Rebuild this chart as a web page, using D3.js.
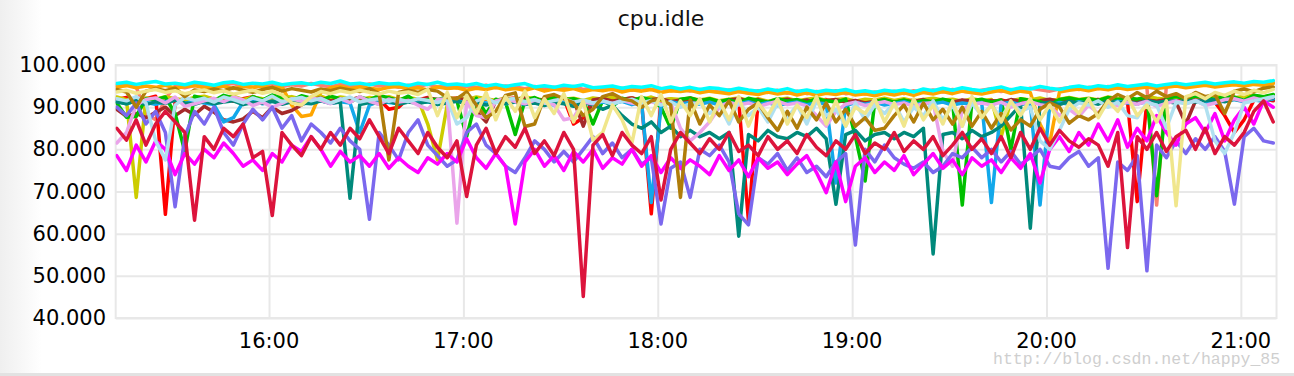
<!DOCTYPE html>
<html>
<head>
<meta charset="utf-8">
<script src="https://cdn.jsdelivr.net/npm/d3@7"></script>
<style>
  html, body { margin: 0; padding: 0; background: #fff; }
  svg { display: block; }
  .grid line { stroke: #e8e8e8; stroke-width: 2; }
  .grid path { display: none; }
  .tick-label { font-family: "DejaVu Sans", sans-serif; font-size: 21px; fill: #000; }
  .series { fill: none; stroke-width: 3.5; stroke-linejoin: round; stroke-linecap: round; }
</style>
</head>
<body>
<svg id="chart" width="1294" height="376"></svg>
<script>
// cpu.idle per host, sampled every 3 minutes from 15:13 to 21:10.
const title = "cpu.idle";
const startTime = new Date(2017, 0, 1, 15, 13);
const stepMinutes = 3;
const yTicks = [40, 50, 60, 70, 80, 90, 100];
const xTickHours = [16, 17, 18, 19, 20, 21];

const cyan = [
  95.6,95.9,95.4,95.8,96.1,95.5,95.7,95.3,95.9,95.6,
  95.2,95.8,96.0,95.4,95.7,95.5,95.9,95.3,95.6,95.8,
  95.4,95.9,95.6,96.2,95.5,95.7,95.3,95.8,95.5,95.6,
  95.1,95.7,95.4,95.9,95.3,95.5,95.2,95.6,95.0,95.4,
  94.9,95.3,95.6,94.8,95.1,94.7,95.2,94.9,95.3,94.6,
  94.8,95.0,94.5,94.9,94.7,95.1,94.4,94.8,94.3,94.7,
  94.2,94.6,94.4,94.0,94.5,94.1,93.8,94.3,93.9,94.4,
  93.7,94.1,93.6,94.0,93.8,94.2,93.6,93.9,93.5,94.0,
  93.7,94.1,93.6,94.3,93.9,94.5,94.0,94.6,94.2,93.9,
  94.4,94.8,94.1,94.6,94.3,94.9,94.5,94.2,94.7,95.0,
  94.6,95.1,94.8,95.3,94.9,95.2,95.5,95.0,95.4,95.7,
  95.3,95.6,95.9,95.5,95.8,96.0,95.7,96.1,95.9,96.3
];
const salmon = [
  95.2,95.5,94.8,88.5,87.0,92.0,95.0,94.6,95.1,95.4,
  94.9,95.3,95.6,95.0,94.7,95.2,95.5,94.9,95.3,95.0,
  95.6,95.2,94.8,95.4,95.1,94.9,95.5,95.0,95.3,94.7,
  95.2,94.9,95.4,94.8,95.1,94.6,95.0,94.7,95.2,94.6,
  95.0,94.8,94.4,94.9,94.3,94.7,94.5,94.9,94.2,94.6,
  94.4,94.1,94.5,94.0,94.6,94.2,94.4,93.9,94.3,93.8,
  94.2,93.9,93.6,94.1,93.7,93.4,93.9,93.5,94.0,93.3,
  93.8,93.2,93.7,93.4,93.9,93.2,93.5,93.1,93.6,93.3,
  93.8,93.2,93.9,93.5,94.1,93.6,94.2,93.8,93.5,94.0,
  94.4,93.7,94.2,93.9,94.5,94.1,93.8,94.3,94.6,94.2,
  94.7,94.4,94.9,94.5,94.8,95.1,94.6,66.8,95.0,95.3,
  94.9,95.2,95.5,95.1,95.4,95.6,95.3,95.7,95.5,95.9
];
const orange = [
  94.8,95.1,94.6,95.0,94.7,95.2,94.5,94.9,95.1,94.6,
  94.8,95.0,94.4,94.9,94.7,95.0,94.5,94.8,90.5,87.8,
  88.2,93.5,94.6,94.9,94.4,94.8,94.5,94.2,94.7,94.9,
  94.3,94.6,94.1,94.8,94.4,94.6,94.0,94.5,94.2,94.7,
  94.1,94.4,94.0,94.6,93.8,94.3,94.0,94.4,93.7,94.2,
  93.9,94.3,93.6,94.1,93.8,94.2,93.5,93.9,93.7,94.0,
  93.4,93.8,93.5,93.2,93.7,93.3,93.0,93.6,93.1,93.5,
  92.9,93.4,92.8,93.3,93.0,93.5,92.9,93.2,92.7,93.3,
  92.9,93.4,92.8,93.5,93.1,93.7,93.2,93.8,93.4,93.1,
  93.6,94.0,93.3,93.8,93.5,86.0,81.5,93.6,94.0,94.3,
  93.9,94.4,94.1,94.6,94.2,94.5,94.8,94.4,94.7,95.0,
  94.6,94.9,95.2,94.8,95.1,95.3,95.0,95.4,95.2,95.6
];
const red = [
  91.8,92.3,91.5,92.0,92.6,64.6,91.2,92.1,91.7,92.4,
  91.9,92.2,91.4,92.0,92.5,91.6,92.1,91.3,91.8,92.3,
  91.5,92.0,92.4,91.6,91.9,92.2,91.4,91.8,89.5,90.0,
  92.1,91.7,92.3,91.5,91.9,92.2,91.3,91.8,92.0,91.4,
  91.9,92.2,91.6,92.0,91.4,91.8,92.1,86.0,87.5,91.6,
  92.0,91.5,91.8,92.2,91.3,64.7,91.7,91.9,91.4,91.8,
  91.5,91.9,91.2,91.7,91.4,63.0,91.6,91.1,91.8,91.3,
  91.7,91.0,91.5,91.8,91.2,91.6,91.0,91.4,91.7,91.1,
  91.5,91.2,91.7,91.0,91.4,91.8,91.2,91.6,91.0,91.5,
  91.3,91.7,91.1,91.6,91.4,91.0,91.5,91.8,91.2,91.6,
  91.4,91.8,91.2,91.7,91.3,67.6,91.5,91.9,91.4,91.7,
  91.3,91.8,91.5,91.2,88.0,84.0,87.0,91.6,92.0,91.5
];
const olive = [
  92.4,91.8,68.6,92.2,91.9,92.5,92.0,91.7,92.3,92.6,
  91.9,92.2,92.6,91.8,92.4,92.0,91.7,92.3,92.5,91.9,
  92.2,92.6,91.8,92.4,92.1,91.7,92.3,92.0,92.5,91.8,
  92.3,91.9,86.0,77.5,90.5,92.2,91.8,92.4,92.0,91.6,
  92.2,91.8,92.4,92.0,91.7,92.3,91.9,92.1,91.6,92.2,
  91.9,92.3,91.7,92.1,91.8,92.4,91.6,92.0,91.8,92.2,
  91.7,92.1,91.5,91.9,92.2,91.6,92.0,91.4,91.8,92.1,
  91.5,91.9,92.2,91.6,91.8,92.0,91.4,91.9,91.7,92.1,
  91.6,92.0,91.5,91.8,92.1,91.7,91.9,91.4,92.0,91.6,
  91.8,83.0,91.5,92.0,91.7,92.2,91.6,91.9,92.3,91.8,
  92.1,91.7,92.4,92.0,92.2,91.8,92.5,92.1,91.9,92.4,
  92.2,92.6,92.0,92.4,92.7,92.3,92.5,92.8,92.4,92.9
];
const brown = [
  89.5,87.8,88.5,87.5,88.8,90.0,88.0,89.5,88.2,90.2,
  88.8,87.0,86.5,87.2,89.0,87.5,90.0,88.5,89.2,90.5,
  91.8,92.2,91.5,92.0,91.7,92.3,91.4,91.9,92.1,91.6,
  92.0,91.5,92.2,91.8,91.3,92.1,91.7,89.0,86.5,91.5,
  92.0,91.6,92.2,91.4,91.9,92.1,91.5,91.8,85.5,91.7,
  92.1,91.4,91.9,92.2,91.6,91.8,92.0,91.3,91.7,92.1,
  91.5,91.9,91.2,91.7,92.0,91.4,91.8,91.1,91.6,91.9,
  91.3,91.7,91.0,91.5,91.8,91.2,91.6,91.0,91.4,91.7,
  91.1,91.6,91.3,91.8,91.0,91.5,91.2,91.7,91.4,91.0,
  91.6,91.2,91.8,91.4,91.0,91.5,91.9,91.3,91.7,91.1,
  91.5,91.8,91.2,91.6,91.9,91.3,91.7,91.4,91.8,91.2,
  86.0,91.5,91.9,91.3,91.7,92.0,91.5,91.8,92.2,91.7
];
const green = [
  91.0,87.6,87.8,92.0,91.8,92.4,88.5,79.5,92.6,92.0,
  91.5,92.8,92.2,90.8,92.5,91.7,92.9,92.3,91.6,92.7,
  92.1,91.4,92.6,92.0,91.2,92.4,91.7,92.8,92.2,91.5,
  92.6,91.0,91.8,91.8,92.4,91.5,83.0,92.1,88.5,91.9,
  91.2,83.5,91.6,92.3,91.2,92.5,91.8,92.0,91.3,86.0,
  91.6,90.2,92.1,91.5,92.3,91.7,90.0,85.0,91.9,92.2,
  91.5,92.0,91.3,91.8,91.0,92.1,91.6,91.2,92.0,91.4,
  91.8,91.1,92.0,91.5,91.2,91.9,83.0,72.5,91.3,91.8,
  91.2,91.7,91.0,91.6,91.3,91.9,91.4,66.8,91.5,91.9,
  91.2,91.7,80.0,92.0,91.6,91.3,90.5,91.8,92.2,91.7,
  92.0,91.6,92.3,91.8,92.2,91.9,92.4,69.0,92.1,92.5,
  92.0,92.6,92.3,91.8,92.7,92.4,91.6,92.8,92.5,93.0
];
const deepSkyBlue = [
  91.4,90.8,91.6,91.1,90.7,91.3,91.8,90.9,91.5,91.0,
  90.6,86.5,87.5,91.2,91.7,90.8,91.4,91.0,91.6,90.7,
  91.2,91.5,90.9,91.3,91.0,84.0,90.5,91.4,91.1,90.8,
  91.5,91.0,91.3,90.7,91.2,91.6,90.9,91.4,91.0,91.3,
  90.8,91.2,90.6,91.4,91.0,90.5,91.3,90.9,91.1,90.7,
  91.2,90.8,91.4,90.6,91.0,67.4,90.2,91.3,90.8,91.1,
  90.7,91.2,90.5,91.0,90.8,91.3,90.6,91.1,90.4,90.9,
  91.2,90.6,91.0,90.8,72.0,90.4,91.1,90.7,91.2,90.5,
  90.9,91.3,90.6,91.0,90.8,91.2,90.5,91.0,90.7,91.1,
  67.4,90.8,91.2,90.6,91.0,66.8,90.4,91.1,90.7,91.3,
  90.9,91.2,90.6,91.4,91.0,90.8,91.3,90.7,91.2,91.5,
  91.0,91.6,91.2,90.9,91.5,91.8,91.3,91.7,91.4,92.0
];
const teal = [
  91.2,90.8,91.5,90.6,91.3,90.9,91.6,91.0,90.7,91.4,
  90.8,91.2,91.5,90.6,91.1,90.9,91.4,90.7,91.3,91.0,
  90.8,91.5,90.9,91.2,68.4,90.6,91.1,90.8,91.4,90.7,
  91.2,90.9,91.3,90.6,91.0,91.4,90.8,91.1,90.5,91.2,
  90.9,91.3,90.7,91.0,90.4,91.1,90.8,90.2,91.0,90.6,
  89.5,90.4,88.0,86.0,85.0,86.5,84.0,85.5,83.0,84.5,
  83.0,84.0,82.5,84.0,59.4,83.5,82.0,84.5,83.0,82.5,
  84.0,83.0,85.0,82.5,67.0,83.5,84.5,82.0,83.5,84.0,
  82.5,84.0,83.0,85.0,55.2,83.5,84.0,82.5,84.5,83.0,
  84.0,85.5,88.0,90.5,61.3,90.8,91.2,90.6,91.4,90.9,
  91.2,90.7,91.5,91.0,91.3,90.8,91.6,91.1,91.4,90.9,
  91.7,91.2,91.5,91.8,91.3,91.9,91.5,92.0,91.7,92.2
];
const plum = [
  81.5,84.0,90.5,91.8,92.2,91.0,92.4,90.2,90.8,91.5,
  92.1,91.3,92.4,91.7,90.4,91.2,90.0,90.9,92.0,91.4,
  92.3,91.6,90.8,92.0,91.1,92.5,91.4,90.7,91.9,91.2,
  91.6,90.5,89.5,91.8,92.0,62.5,91.2,88.0,87.5,91.5,
  92.0,91.3,90.8,91.7,91.0,90.6,87.0,87.5,91.2,90.8,
  91.5,90.9,91.6,91.0,90.5,91.3,90.7,91.1,85.0,82.0,
  84.0,86.5,90.0,91.2,90.5,91.0,90.2,90.8,91.4,90.6,
  91.0,90.3,88.0,85.5,89.0,90.7,91.2,90.4,90.9,91.3,
  90.6,91.0,90.2,90.8,91.1,79.5,76.0,89.5,90.7,91.0,
  90.5,91.2,90.0,90.8,91.3,90.6,90.2,88.0,89.5,87.8,
  90.5,88.5,91.0,90.4,91.2,90.7,91.4,90.2,90.9,91.5,
  90.8,91.6,90.4,91.0,91.8,92.0,91.4,92.2,91.6,92.4
];
const slateBlue = [
  90,88,91,86,89,84,66.4,83,89,86,
  90,84,81,86,89.5,87,90,85,88,82,
  86,84,81.5,85,82,80,63.4,84,81,77.5,
  84,87,81,78.5,76,77.5,84,86,81,79,
  76,74.5,78,82,80,77,79.5,77,80,83,
  79,81.5,78,80,76.5,78,62.3,75.5,77,68.6,
  80,78.5,81,77,64.7,62.1,78,76.5,79,75,
  78,74.5,76,73.5,77,79,57.3,80,77,81,
  78,76.5,75.5,77,74.5,76,79,78,80.5,78,
  80,77,79.5,76.5,78,80,76,75.5,78,79.5,
  76,78,51.8,77,75,78.5,51.2,81,78,82,
  79,82.5,80,83,79.5,67,83,85,82,81.5
];
const magenta = [
  78.5,75,81,77,82,80,74,79,76.5,80,
  78,81.5,79,76,77.5,75,79,77,81,79.5,
  83,80,76,79.5,77,78.5,76,79,75.5,78,
  76,74.5,78,76.5,79,77,82.5,78,75.5,79,
  76,62.3,77,80,76,78.5,75,79.5,77,80,
  75.5,78,76.5,80,76,78.5,74.5,78,75.5,77.5,
  76,74,78.5,75,77.5,73.5,78,75.5,77,74,
  76.5,78.5,74.5,69.7,77,67.6,76,78,74.5,77,
  75,78.5,74,76.5,79,75.5,77.5,74,78,76,
  77.5,74.5,78,75.5,79,72,80,83,79.5,84,
  81,86,82,87,80.5,85,82,88,84,81,
  86,87.5,84,88.5,82,87,90,86,91.5,90
];
const lightBlue = [
  92.0,91.5,92.5,91.0,82.0,77.5,90.5,92.3,91.6,92.1,
  91.2,92.4,91.8,91.0,92.2,91.5,92.6,91.3,91.9,92.3,
  91.5,92.1,91.0,91.8,92.4,91.2,91.7,92.0,91.4,91.9,
  91.3,92.0,91.6,91.1,91.8,86.0,87.5,91.5,92.2,91.0,
  91.7,92.1,91.3,91.8,91.0,91.6,92.0,91.2,91.7,91.0,
  91.5,90.8,91.4,91.9,91.0,91.6,90.5,91.3,90.0,90.8,
  91.0,88.5,90.5,86.0,91.5,88.0,90.0,86.5,91.0,87.5,
  90.5,86.0,91.5,88.0,89.5,85.5,91.0,87.0,90.5,88.5,
  91.0,86.5,90.0,88.0,91.5,87.0,90.5,85.5,91.0,88.0,
  90.5,87.5,91.0,89.0,90.0,82.0,80.0,84.5,89.5,91.0,
  90.5,91.5,90.0,91.2,88.0,87.5,91.0,90.5,85.0,91.2,
  90.8,91.5,90.5,82.0,79.0,84.0,91.0,91.5,92.0,92.5
];
const goldenrod = [
  94.2,93.6,90.0,93.8,94.4,93.9,94.5,92.5,94.1,93.7,
  94.3,93.9,94.6,94.0,93.5,94.2,94.7,93.8,94.4,94.0,
  93.6,94.3,93.9,94.5,94.1,93.7,94.4,93.2,77.5,93.5,
  94.0,93.5,94.2,93.8,92.3,92.0,93.6,90.5,87.5,89.0,
  92.8,93.4,85.4,86.0,92.5,93.0,92.0,91.0,88.0,89.5,
  92.5,93.2,92.0,91.5,90.0,91.5,92.0,90.5,68.6,91.7,
  86.0,90.5,88.0,91.5,86.5,89.5,91.0,87.5,84.5,89.0,
  85.0,90.0,87.0,91.0,86.5,89.5,85.5,87.5,84.5,85.0,
  88.0,90.5,86.5,91.0,87.0,89.5,86.0,90.0,85.5,89.0,
  85.0,88.5,84.6,87.0,85.5,89.5,91.0,90.0,86.2,88.0,
  87.0,88.5,91.5,93.0,92.0,93.5,92.2,93.8,92.5,93.2,
  92.0,93.5,92.5,93.0,88.5,93.8,94.3,93.6,94.5,94.8
];
const khaki = [
  93.6,94.0,93.3,93.8,94.2,93.5,93.9,93.2,93.7,94.1,
  93.4,93.9,93.1,93.6,94.0,93.3,93.8,92.9,91.0,90.5,
  92.5,93.7,93.2,93.9,93.4,94.0,93.5,93.1,93.8,93.3,
  93.6,93.0,94.2,88.0,93.5,87.5,92.8,88.5,93.5,87.0,
  92.5,89.0,93.8,87.5,92.0,88.5,93.2,86.5,91.5,82.2,
  84.0,90.5,87.0,81.4,92.5,88.0,93.0,86.5,91.5,88.0,
  92.0,86.5,91.5,87.0,92.5,85.5,91.0,88.0,92.0,86.0,
  90.5,87.5,92.5,86.0,91.5,85.5,90.0,88.5,92.0,86.5,
  91.0,85.5,92.0,87.0,90.5,86.0,91.5,85.5,92.5,87.5,
  90.5,86.5,91.5,88.0,92.0,87.0,90.5,86.5,91.0,88.5,
  92.0,87.5,91.5,89.0,92.5,88.0,90.5,86.5,91.5,66.6,
  92.5,93.2,92.0,93.5,92.8,93.8,93.0,94.0,93.4,94.2
];
const crimson = [
  85,82.2,87,81,86,89,86.5,84,63.2,83,
  80,85,83,86,78,79.5,64.3,84,81,78.5,
  83,80,84,81,85,82.5,87,83,79,85,
  82,79,84,80.5,78,82,68.8,81,85,79,
  83,80.5,85,79,82,78.5,84,80,45.1,81,
  83.5,78.5,84,81,79,83,68,80,84,81.5,
  79,82.5,80,84,79.5,81,78.5,83,80,82,
  79,83.5,80.5,78.5,82,80,83.5,79,81.5,80,
  84,79.5,82,80,83,78.5,81,84,80,82.5,
  79,83,78,84,80,85,81,84.5,82,80.5,
  82.5,81,76,84,56.7,83,80,84,79.5,83,
  84.5,80,85,79,83,81,84,89,91.5,86.5
];

// drawing order: first drawn sits underneath
const seriesList = [
  { values: salmon, color: "#fa8072" },
  { values: orange, color: "#ffa500" },
  { values: red, color: "#ff0000" },
  { values: olive, color: "#cccc00" },
  { values: brown, color: "#a52a2a" },
  { values: green, color: "#00bf00" },
  { values: deepSkyBlue, color: "#12a8ea" },
  { values: teal, color: "#00897b" },
  { values: plum, color: "#eaa4ea" },
  { values: slateBlue, color: "#7b68ee" },
  { values: magenta, color: "#ff00ff" },
  { values: lightBlue, color: "#b0e0f0" },
  { values: goldenrod, color: "#b07d0a" },
  { values: khaki, color: "#f0e68c" },
  { values: cyan, color: "#00ffff" },
  { values: crimson, color: "#dc143c" }
];

const W = 1294, H = 376;
const plot = { left: 115.7, right: 1276.5, top: 65, bottom: 318 };

const svg = d3.select("#chart");

// faint grey page edge on the left and separator at the bottom
const defs = svg.append("defs");
const grad = defs.append("linearGradient").attr("id", "edge");
grad.append("stop").attr("offset", "0%").attr("stop-color", "#efefef");
grad.append("stop").attr("offset", "100%").attr("stop-color", "#ffffff");
svg.append("rect").attr("x", 0).attr("y", 0).attr("width", 42).attr("height", H).attr("fill", "url(#edge)");
svg.append("rect").attr("x", 0).attr("y", 373).attr("width", W).attr("height", 3).attr("fill", "#e2e2e2");

const x = d3.scaleTime()
  .domain([new Date(2017, 0, 1, 15, 12, 40), new Date(2017, 0, 1, 21, 11)])
  .range([plot.left, plot.right]);
const y = d3.scaleLinear().domain([40, 100]).range([plot.bottom, plot.top]);

const times = cyan.map((_, i) => new Date(startTime.getTime() + i * stepMinutes * 60000));
const xTicks = xTickHours.map(h => new Date(2017, 0, 1, h, 0));

// grid
svg.append("g").attr("class", "grid")
  .attr("transform", `translate(0,${plot.bottom})`)
  .call(d3.axisBottom(x).tickValues(xTicks).tickSize(-(plot.bottom - plot.top)).tickFormat(""));
svg.append("g").attr("class", "grid")
  .attr("transform", `translate(${plot.left},0)`)
  .call(d3.axisLeft(y).tickValues(yTicks).tickSize(-(plot.right - plot.left)).tickFormat(""));
svg.append("rect")
  .attr("x", plot.left).attr("y", plot.top)
  .attr("width", plot.right - plot.left).attr("height", plot.bottom - plot.top)
  .attr("fill", "none").attr("stroke", "#e8e8e8").attr("stroke-width", 2);

// lines
defs.append("clipPath").attr("id", "clip").append("rect")
  .attr("x", plot.left).attr("y", plot.top - 20)
  .attr("width", plot.right - plot.left).attr("height", plot.bottom - plot.top + 20);

const line = d3.line().x((d, i) => x(times[i])).y(d => y(d));
svg.append("g").attr("clip-path", "url(#clip)")
  .selectAll("path").data(seriesList).join("path")
  .attr("class", "series")
  .attr("stroke", d => d.color)
  .attr("d", d => line(d.values));

// labels
const fmtY = d3.format(".3f");
svg.append("g").selectAll("text").data(yTicks).join("text")
  .attr("class", "tick-label")
  .attr("x", 106).attr("y", d => y(d))
  .attr("text-anchor", "end").attr("dominant-baseline", "central")
  .text(fmtY);

const fmtX = d3.timeFormat("%H:%M");
svg.append("g").selectAll("text").data(xTicks).join("text")
  .attr("class", "tick-label")
  .attr("x", d => x(d)).attr("y", 341)
  .attr("text-anchor", "middle").attr("dominant-baseline", "central")
  .text(fmtX);

svg.append("text")
  .attr("x", 661).attr("y", 26)
  .attr("text-anchor", "middle")
  .attr("font-family", "DejaVu Sans, sans-serif").attr("font-size", 22)
  .attr("fill", "#111")
  .text(title);

// watermark
svg.append("text")
  .attr("x", 993).attr("y", 364)
  .attr("font-family", "Liberation Mono, monospace").attr("font-size", 16.5)
  .attr("fill", "#cfcfcf")
  .text("http://blog.csdn.net/happy_85");
</script>
</body>
</html>
